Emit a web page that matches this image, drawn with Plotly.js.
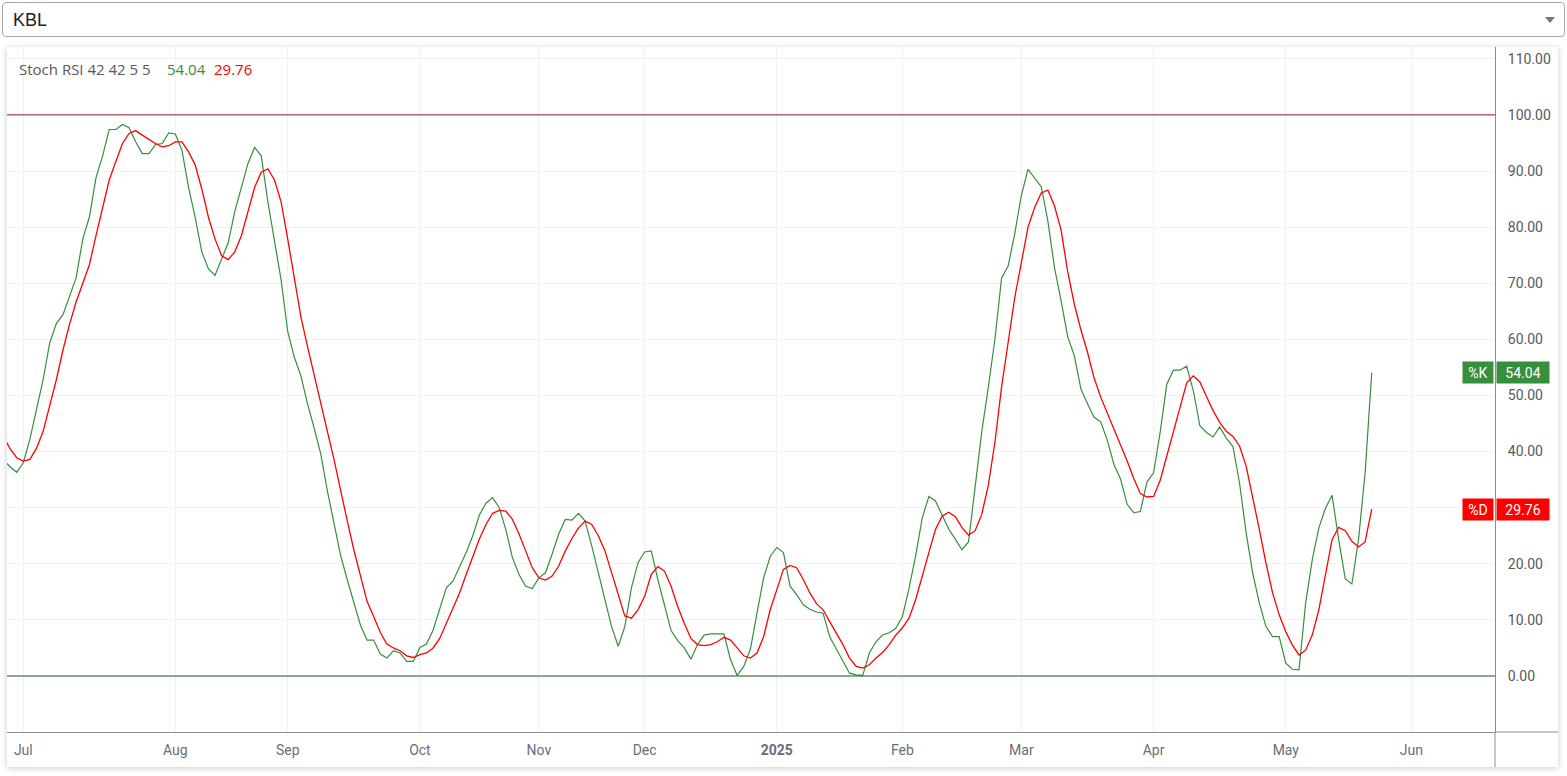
<!DOCTYPE html>
<html>
<head>
<meta charset="utf-8">
<script src="https://cdn.plot.ly/plotly-3.0.1.min.js"></script>
<style>
  html, body { margin: 0; padding: 0; background: #ffffff; width: 1567px; height: 776px; overflow: hidden; }
  #picker {
    position: absolute; left: 2px; top: 2px; width: 1561px; height: 33px;
    border: 1px solid #a8a8a8; border-radius: 4px; background: #fff;
    font-family: "Liberation Sans", Arial, sans-serif; font-size: 18px; color: #222;
    box-sizing: content-box;
  }
  #picker .lbl { position: absolute; left: 10px; top: 7px; }
  #picker .arr {
    position: absolute; right: 9px; top: 14px; width: 0; height: 0;
    border-left: 5px solid transparent; border-right: 5px solid transparent; border-top: 6px solid #777;
  }
  #panel {
    position: absolute; left: 7px; top: 47px; width: 1551px; height: 720px; background: #fff;
    box-shadow: 0 1px 6px rgba(0,0,0,0.22);
  }
  #chart { width: 1551px; height: 720px; }
</style>
</head>
<body>
<div id="picker"><span class="lbl">KBL</span><span class="arr"></span></div>
<div id="panel"><div id="chart"></div></div>
<script>
// Stoch RSI 42 42 5 5 — one value per trading session (index 0 = late June 2024)
const kValues = [
  38.5, 37.3, 36.3, 38, 42.2, 47.5, 52.8, 59.4, 62.8, 64.4,
  67.7, 71, 77.9, 81.8, 88.8, 92.7, 97.4, 97.4, 98.3, 97.7,
  95.2, 93.1, 93.1, 94.7, 94.9, 96.8, 96.6, 93.7, 87.1, 81.8,
  75.6, 72.6, 71.4, 74.2, 77.2, 82.8, 87.1, 91.4, 94.2, 92.7,
  84.5, 77.2, 70.6, 61.4, 56.8, 53.5, 48.5, 44.2, 39.6, 33,
  27.1, 21.5, 17.2, 13.2, 9.1, 6.4, 6.4, 3.9, 3.2, 4.5,
  4.1, 2.6, 2.6, 5.1, 5.7, 8.2, 11.8, 15.7, 16.9, 19.3,
  22, 25, 28.7, 30.8, 31.8, 30, 26.1, 21.1, 18.1, 16,
  15.6, 17.5, 18.4, 21.7, 25.3, 27.9, 27.8, 29, 27.6, 23.2,
  18.4, 13.6, 8.8, 5.3, 8.8, 15.7, 20.2, 22.1, 22.3, 17.2,
  12.4, 8.1, 6.3, 5.0, 3.0, 5.6, 7.3, 7.5, 7.5, 7.5,
  2.9, 0.1, 1.7, 4.8, 11.2, 17.5, 21.3, 22.9, 22, 16,
  14.5, 12.7, 11.9, 11.4, 11.2, 7, 4.8, 2.6, 0.5, 0.2,
  0.1, 4.1, 6.1, 7.3, 7.7, 8.5, 10.6, 15.6, 21.4, 28.2,
  32, 31.2, 28.8, 26.2, 24.4, 22.5, 23.9, 33.7, 43.5, 51.5,
  60.1, 70.9, 73.1, 78.9, 85.7, 90.3, 88.7, 87.2, 81.1, 72.8,
  66.9, 60.5, 57.1, 51.2, 48.5, 46.1, 45.3, 42, 37.7, 35.1,
  30.6, 29.1, 29.3, 34.6, 36.2, 43.5, 52, 54.5, 54.5, 55.2,
  50.9, 44.6, 43.4, 42.6, 44.4, 42.4, 40.9, 34.4, 25.5, 18.3,
  13, 8.8, 7, 7, 2.3, 1.2, 1.1, 13, 20.7, 26.4,
  29.9, 32.2, 24.3, 17.3, 16.4, 24.3, 36.2, 54.04
];
const dValues = [
  42.7, 40.5, 38.9, 38.3, 38.6, 40.6, 43.6, 48.2, 52.8, 58.1,
  62.7, 66.7, 70, 73.3, 78.5, 83.2, 88.4, 91.7, 94.9, 96.7,
  97.2, 96.4, 95.6, 94.9, 94.3, 94.5, 95.2, 95.2, 93.4, 91.1,
  86.8, 81.8, 77.9, 74.9, 74.2, 75.6, 78.5, 82.8, 87.1, 89.8,
  90.4, 88.4, 84.5, 77.9, 70.6, 64, 58.7, 53.5, 48.2, 43.6,
  38.6, 33, 27.7, 22.5, 17.8, 13.3, 10.6, 7.8, 5.7, 5,
  4.5, 3.6, 3.3, 3.8, 4.1, 5, 6.7, 9.4, 12.1, 14.8,
  18.1, 21.1, 24.4, 27, 29, 29.5, 29.4, 27.9, 25.3, 22.3,
  19.3, 17.5, 17.1, 17.8, 19.6, 22.3, 24.5, 26.4, 27.6, 27,
  25, 22.3, 18.4, 14.2, 10.7, 10.3, 11.8, 14.2, 18.1, 19.5,
  18.7, 16, 12.4, 9.4, 6.7, 5.6, 5.4, 5.6, 6.1, 6.9,
  6.4, 5, 3.6, 3.2, 4.1, 7, 11.8, 15.4, 19, 19.7,
  19.3, 17.2, 14.8, 12.9, 11.8, 9.7, 7.6, 5.6, 3.2, 1.7,
  1.4, 2, 3.2, 4.2, 5.6, 7.3, 8.6, 10.3, 13.6, 18,
  22, 26.1, 28.5, 29.2, 28.4, 26.5, 25.1, 25.9, 28.8, 34,
  41.7, 51.5, 59.5, 67.5, 73.7, 80, 83.5, 86.1, 86.6, 83.8,
  79.5, 72.1, 66.3, 61.7, 57.7, 53.1, 49.7, 46.9, 44.2, 41.4,
  38.3, 35.2, 32.5, 31.9, 32, 34.9, 39.2, 43.9, 48.2, 52.2,
  53.5, 52.4, 49.8, 47.3, 45.2, 43.6, 42.7, 41, 37.4, 32,
  26.1, 20.1, 14.8, 10.9, 7.9, 5.5, 3.75, 4.6, 7.3, 11.8,
  18.3, 24.3, 26.5, 25.9, 24, 23, 23.9, 29.76
];
// first session of each month (session index) and its label
const monthTickIdx = [3, 26, 43, 63, 81, 97, 117, 136, 154, 174, 194, 213];
const monthTickText = ['Jul', 'Aug', 'Sep', 'Oct', 'Nov', 'Dec', '<b>2025</b>', 'Feb', 'Mar', 'Apr', 'May', 'Jun'];
const yTickVals = [0, 10, 20, 30, 40, 50, 60, 70, 80, 90, 100, 110];
const upperBand = 100;
const lowerBand = 0;
const indicatorName = 'Stoch RSI 42 42 5 5';

const sessions = kValues.map((_, i) => i);
const kLast = kValues[kValues.length - 1];
const dLast = dValues[dValues.length - 1];
const GREEN = '#388e3c';
const RED = '#ff0000';
const FONT = 'Roboto, "Liberation Sans", Arial, sans-serif';
const LFONT = '"Open Sans", Roboto, Arial, sans-serif';

const traces = [
  { x: sessions, y: kValues, type: 'scatter', mode: 'lines', name: '%K',
    line: { color: GREEN, width: 1.2 }, hoverinfo: 'skip' },
  { x: sessions, y: dValues, type: 'scatter', mode: 'lines', name: '%D',
    line: { color: RED, width: 1.3 }, hoverinfo: 'skip' }
];

function legendItem(text, color, px) {
  return { xref: 'paper', yref: 'paper', x: 0, y: 1, xanchor: 'left', yanchor: 'top',
    xshift: px, yshift: -10, showarrow: false, align: 'left',
    font: { family: LFONT, size: 15, color: color }, text: text };
}

const layout = {
  width: 1551, height: 720,
  margin: { l: 0, r: 63, t: 0, b: 35 },
  paper_bgcolor: '#ffffff', plot_bgcolor: '#ffffff',
  showlegend: false,
  font: { family: FONT, size: 14, color: '#6a6d78' },
  xaxis: {
    range: [0.534, 225.65],
    tickmode: 'array', tickvals: monthTickIdx, ticktext: monthTickText,
    showgrid: true, gridcolor: '#eff1f6', gridwidth: 1,
    zeroline: false, showline: true, linecolor: '#8a8d96', linewidth: 1,
    ticks: '', ticklabelstandoff: 5,
    tickfont: { family: FONT, size: 14, color: '#6a6d78' },
    fixedrange: true
  },
  yaxis: {
    side: 'right',
    range: [-9.98, 112.1],
    tickmode: 'array', tickvals: yTickVals, tickformat: '.2f',
    showgrid: true, gridcolor: '#eff1f6', gridwidth: 1,
    zeroline: false, showline: true, linecolor: '#8a8d96', linewidth: 1,
    ticks: '', ticklabelstandoff: 9,
    tickfont: { family: FONT, size: 14, color: '#555963' },
    fixedrange: true
  },
  shapes: [
    { type: 'line', xref: 'paper', x0: 0, x1: 1, yref: 'y', y0: upperBand, y1: upperBand,
      line: { color: '#8b1a1a', width: 1 } },
    { type: 'line', xref: 'paper', x0: 0, x1: 1, yref: 'y', y0: lowerBand, y1: lowerBand,
      line: { color: '#1b5e20', width: 1.2 } },
    { type: 'line', xref: 'paper', x0: 1, x1: 1.0425, yref: 'paper', y0: 0, y1: 0,
      line: { color: '#8a8d96', width: 1 } },
    { type: 'line', xref: 'paper', x0: 1, x1: 1, yref: 'paper', y0: 0, y1: -0.052,
      line: { color: '#8a8d96', width: 1 } }
  ],
  annotations: [
    legendItem(indicatorName, '#555963', 10),
    legendItem(kLast.toFixed(2), GREEN, 158),
    legendItem(dLast.toFixed(2), RED, 205),
    { xref: 'paper', yref: 'y', x: 1, y: kLast, xanchor: 'left', yanchor: 'middle', xshift: 1,
      showarrow: false, text: kLast.toFixed(2), bgcolor: GREEN, width: 50, height: 19,
      font: { family: FONT, size: 14, color: '#ffffff' }, borderpad: 1 },
    { xref: 'paper', yref: 'y', x: 1, y: kLast, xanchor: 'right', yanchor: 'middle', xshift: -1,
      showarrow: false, text: '%K', bgcolor: GREEN, width: 28, height: 19,
      font: { family: FONT, size: 14, color: '#ffffff' }, borderpad: 1 },
    { xref: 'paper', yref: 'y', x: 1, y: dLast, xanchor: 'left', yanchor: 'middle', xshift: 1,
      showarrow: false, text: dLast.toFixed(2), bgcolor: RED, width: 50, height: 19,
      font: { family: FONT, size: 14, color: '#ffffff' }, borderpad: 1 },
    { xref: 'paper', yref: 'y', x: 1, y: dLast, xanchor: 'right', yanchor: 'middle', xshift: -1,
      showarrow: false, text: '%D', bgcolor: RED, width: 28, height: 19,
      font: { family: FONT, size: 14, color: '#ffffff' }, borderpad: 1 }
  ],
  hovermode: false
};

Plotly.newPlot('chart', traces, layout, { displayModeBar: false, staticPlot: true });
</script>
</body>
</html>
